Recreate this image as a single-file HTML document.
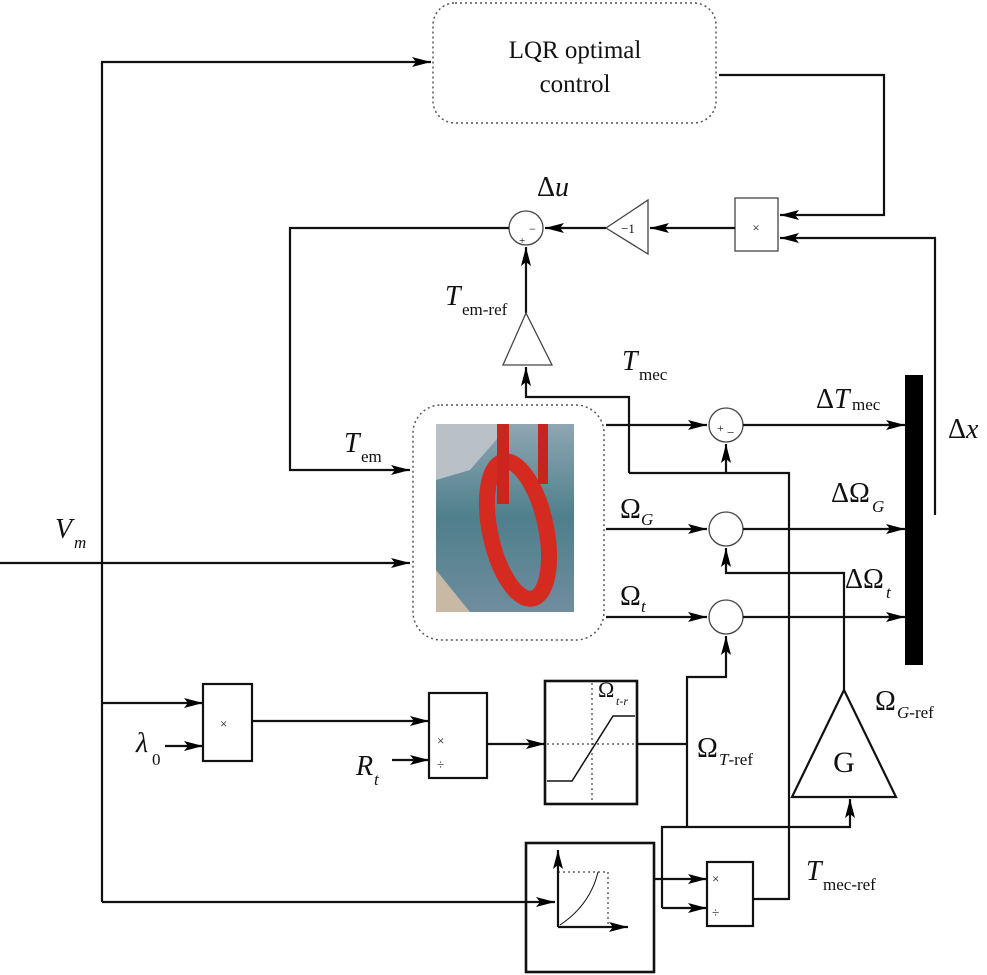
<!DOCTYPE html>
<html><head><meta charset="utf-8"><style>
html,body{margin:0;padding:0;background:#fff;}
svg{display:block;}
text{font-family:"Liberation Serif",serif;fill:#111;}
.i{font-style:italic;}
</style></head><body>
<svg width="987" height="975" viewBox="0 0 987 975" xmlns="http://www.w3.org/2000/svg">
<defs>
<marker id="a" markerWidth="20" markerHeight="12" refX="19" refY="6" orient="auto" markerUnits="userSpaceOnUse">
<path d="M0,1 L19,6 L0,11 L4,6 Z" fill="#000"/></marker>
<linearGradient id="water" x1="0" y1="0" x2="0" y2="1">
<stop offset="0" stop-color="#8ea6b2"/><stop offset="0.5" stop-color="#4f7f8c"/><stop offset="1" stop-color="#6f8d9e"/></linearGradient>
</defs>
<g fill="none" stroke="#111" stroke-width="2.2">
<rect x="433" y="3" width="283" height="120" rx="22" stroke="#555" stroke-width="1.5" stroke-dasharray="2,3"/>
<polyline points="102,902 102,62 431,62" marker-end="url(#a)"/>
<polyline points="719,75 884,75 884,215 780,215" marker-end="url(#a)"/>
<polyline points="935,515 935,238 780,238" marker-end="url(#a)"/>
<rect x="735" y="198" width="43" height="53" stroke="#444" stroke-width="1.3"/>
<line x1="735" y1="228" x2="650" y2="228" marker-end="url(#a)"/>
<polygon points="648,200 648,254 606,228" stroke="#444" stroke-width="1.3"/>
<line x1="606" y1="228" x2="545" y2="228" marker-end="url(#a)"/>
<circle cx="526" cy="228" r="17" stroke="#444" stroke-width="1.3"/>
<polyline points="509,228 290,228 290,470 410,470" marker-end="url(#a)"/>
<line x1="526" y1="313" x2="526" y2="247" marker-end="url(#a)"/>
<polygon points="526,313 503,365 552,365" stroke="#444" stroke-width="1.3"/>
<polyline points="629,473 629,397 526,397 526,367" marker-end="url(#a)"/>
<rect x="413" y="405" width="191" height="235" rx="28" stroke="#555" stroke-width="1.5" stroke-dasharray="2,3"/>
<line x1="606" y1="425" x2="707" y2="425" marker-end="url(#a)"/>
<circle cx="726" cy="425" r="17" stroke="#444" stroke-width="1.3"/>
<line x1="743" y1="425" x2="905" y2="425" marker-end="url(#a)"/>
<polyline points="629,473 789,473 789,899 754,899"/>
<line x1="726" y1="473" x2="726" y2="444" marker-end="url(#a)"/>
<line x1="606" y1="529" x2="707" y2="529" marker-end="url(#a)"/>
<circle cx="726" cy="529" r="17" stroke="#444" stroke-width="1.3"/>
<line x1="743" y1="529" x2="905" y2="529" marker-end="url(#a)"/>
<polyline points="844,690 844,573 726,573 726,548" marker-end="url(#a)"/>
<line x1="606" y1="617" x2="707" y2="617" marker-end="url(#a)"/>
<circle cx="726" cy="617" r="17" stroke="#444" stroke-width="1.3"/>
<line x1="743" y1="617" x2="905" y2="617" marker-end="url(#a)"/>
<polyline points="687,827 687,677 726,677 726,636" marker-end="url(#a)"/>
<line x1="0" y1="563" x2="410" y2="563" marker-end="url(#a)"/>
<polygon points="844,690 792,797 896,797"/>
<polyline points="662,908 662,827 850,827 850,799" marker-end="url(#a)"/>
<line x1="102" y1="703" x2="203" y2="703" marker-end="url(#a)"/>
<line x1="165" y1="746" x2="203" y2="746" marker-end="url(#a)"/>
<rect x="203" y="684" width="49" height="77"/>
<line x1="252" y1="721" x2="429" y2="721" marker-end="url(#a)"/>
<line x1="392" y1="760" x2="429" y2="760" marker-end="url(#a)"/>
<rect x="429" y="693" width="58" height="85"/>
<line x1="487" y1="744" x2="545" y2="744" marker-end="url(#a)"/>
<rect x="545" y="681" width="92" height="123" stroke-width="2.6"/>
<line x1="637" y1="744" x2="687" y2="744"/>
<line x1="592" y1="683" x2="592" y2="802" stroke-width="1" stroke-dasharray="2,3"/>
<line x1="547" y1="744" x2="635" y2="744" stroke-width="1" stroke-dasharray="2,3"/>
<polyline points="547,781 572,781 613,716 635,716" stroke-width="1.5"/>
<rect x="526" y="843" width="128" height="129" stroke-width="2.6"/>
<line x1="102" y1="902" x2="555" y2="902" marker-end="url(#a)"/>
<line x1="558" y1="927" x2="558" y2="850" marker-end="url(#a)"/>
<line x1="558" y1="927" x2="628" y2="927" marker-end="url(#a)"/>
<path d="M560,925 Q590,905 598,872" stroke-width="1"/>
<polyline points="558,872 608,872 608,927" stroke-width="1" stroke-dasharray="2,3"/>
<line x1="654" y1="879" x2="707" y2="879" marker-end="url(#a)"/>
<line x1="662" y1="908" x2="707" y2="908" marker-end="url(#a)"/>
<rect x="707" y="862" width="46" height="64"/>
</g>
<rect x="905" y="375" width="18" height="290" fill="#000"/>
<rect x="436" y="424" width="138" height="188" fill="url(#water)"/>
<polygon points="436,424 510,424 470,470 436,480" fill="#b9c0c6"/>
<ellipse cx="518" cy="530" rx="28" ry="70" fill="none" stroke="#d42a20" stroke-width="16" transform="rotate(-12 518 530)"/>
<rect x="497" y="424" width="12" height="80" fill="#cc2520"/>
<rect x="538" y="424" width="10" height="60" fill="#c8241e"/>
<polygon points="436,570 470,612 436,612" fill="#c7b9a4"/>
<text x="575" y="58" font-size="25" text-anchor="middle">LQR optimal</text>
<text x="575" y="92" font-size="25" text-anchor="middle">control</text>
<text x="756" y="232" font-size="13" text-anchor="middle">×</text>
<text x="628" y="233" font-size="13" text-anchor="middle">−1</text>
<text x="529" y="233" font-size="12">−</text>
<text x="519" y="244" font-size="11">+</text>
<text x="537" y="196" font-size="28">Δ<tspan class="i">u</tspan></text>
<text x="445" y="305" font-size="28" class="i">T</text><text x="462" y="315" font-size="17">em-ref</text>
<text x="622" y="370" font-size="28" class="i">T</text><text x="639" y="380" font-size="17">mec</text>
<text x="344" y="452" font-size="28" class="i">T</text><text x="361" y="462" font-size="17">em</text>
<text x="816" y="408" font-size="28">Δ<tspan class="i">T</tspan></text><text x="852" y="410" font-size="17">mec</text>
<text x="948" y="438" font-size="28">Δ<tspan class="i">x</tspan></text>
<text x="717" y="432" font-size="12">+</text><text x="727" y="437" font-size="13">−</text>
<text x="620" y="518" font-size="28">Ω</text><text x="641" y="525" font-size="17" class="i">G</text>
<text x="831" y="502" font-size="28">ΔΩ</text><text x="872" y="512" font-size="17" class="i">G</text>
<text x="620" y="605" font-size="28">Ω</text><text x="641" y="612" font-size="17" class="i">t</text>
<text x="845" y="588" font-size="28">ΔΩ</text><text x="886" y="598" font-size="17" class="i">t</text>
<text x="55" y="538" font-size="28" class="i">V</text><text x="74" y="548" font-size="17" class="i">m</text>
<text x="220" y="728" font-size="13">×</text>
<text x="136" y="752" font-size="28" class="i">λ</text><text x="152" y="765" font-size="17">0</text>
<text x="437" y="745" font-size="13">×</text><text x="437" y="769" font-size="13">÷</text>
<text x="356" y="775" font-size="28" class="i">R</text><text x="374" y="785" font-size="17" class="i">t</text>
<text x="598" y="697" font-size="22">Ω</text><text x="616" y="705" font-size="12" class="i">t-r</text>
<text x="697" y="757" font-size="28">Ω</text><text x="719" y="765" font-size="17"><tspan class="i">T</tspan>-ref</text>
<text x="844" y="772" font-size="30" text-anchor="middle">G</text>
<text x="875" y="710" font-size="28">Ω</text><text x="897" y="718" font-size="17"><tspan class="i">G</tspan>-ref</text>
<text x="806" y="880" font-size="28" class="i">T</text><text x="823" y="890" font-size="17">mec-ref</text>
<text x="712" y="883" font-size="13">×</text><text x="712" y="917" font-size="13">÷</text>
</svg>
</body></html>
